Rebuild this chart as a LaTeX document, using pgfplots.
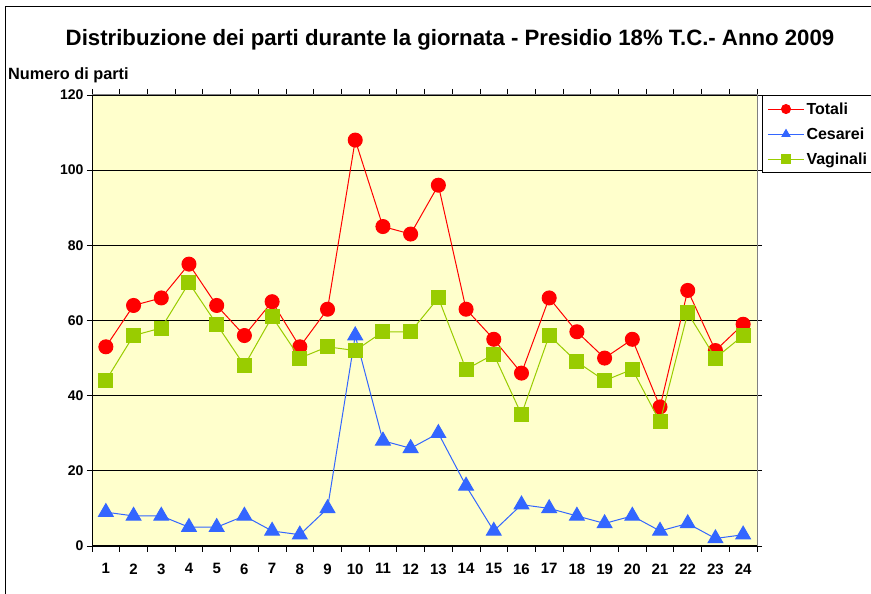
\documentclass[border=0pt]{standalone}
\usepackage{pgfplots}
\pgfplotsset{compat=1.18}
\usepackage{fontspec}
\setmainfont{Liberation Sans}
\definecolor{cred}{HTML}{FF0000}
\definecolor{cblue}{HTML}{3366FF}
\definecolor{cgreen}{HTML}{99CC00}
\definecolor{bgyellow}{HTML}{FFFFCC}
\begin{document}
\begin{tikzpicture}[x=1pt,y=1pt]
\useasboundingbox (0,0) rectangle (871,594);
\clip (0,0) rectangle (871,594);
\fill[white] (0,0) rectangle (871,594);
\draw[black,line width=1pt] (5,0) -- (5,587) -- (872,587);
\node[font=\bfseries\fontsize{22.2}{25}\selectfont] at (450,554) {Distribuzione dei parti durante la giornata - Presidio 18\% T.C.- Anno 2009};
\node[font=\bfseries\fontsize{16.3}{18}\selectfont, anchor=west, inner sep=0pt] at (8,519) {Numero di parti};
\begin{axis}[
  at={(92pt,48pt)}, anchor=south west,
  width=665pt, height=451pt, scale only axis,
  xmin=0.5, xmax=24.5, ymin=0, ymax=120,
  xtick={1,...,24},
  minor xtick={0.5,1.5,...,24.5},
  ytick={0,20,...,120},
  /pgf/number format/assume math mode=true,
  major x tick style={draw=none},
  minor x tick style={black, line width=0.8pt},
  major y tick style={black, line width=0.8pt},
  tick align=outside,
  major tick length=5pt, minor tick length=6pt,
  ymajorgrids,
  major grid style={black, line width=0.8pt},
  axis background/.style={fill=bgyellow},
  axis line style={draw=gray, line width=1pt},
  xticklabel style={font=\bfseries\fontsize{15}{17}\selectfont, yshift=-9pt},
  yticklabel style={font=\bfseries\fontsize{14}{16}\selectfont},
  clip mode=individual,
  legend style={at={(1,1)}, xshift=5pt, anchor=north west, draw=black, line width=1pt,
    font=\bfseries\fontsize{16}{18}\selectfont, row sep=8pt, inner xsep=5pt, inner ysep=5pt,
    cells={anchor=west}},
  legend cell align=left,
  legend image code/.code={\draw[line width=1pt, mark repeat=2, mark phase=2, mark size=4.5pt] plot coordinates {(0pt,0pt) (18pt,0pt) (36pt,0pt)};},
]
\addplot[cred, line width=1pt, mark=*, mark size=7pt, mark options={fill=cred, draw=cred}] coordinates {
(1,53)(2,64)(3,66)(4,75)(5,64)(6,56)(7,65)(8,53)(9,63)(10,108)(11,85)(12,83)(13,96)(14,63)(15,55)(16,46)(17,66)(18,57)(19,50)(20,55)(21,37)(22,68)(23,52)(24,59)};
\addlegendentry{Totali}
\addplot[cblue, line width=1pt, mark=triangle*, mark size=8.5pt, mark options={fill=cblue, draw=cblue}] coordinates {
(1,9)(2,8)(3,8)(4,5)(5,5)(6,8)(7,4)(8,3)(9,10)(10,56)(11,28)(12,26)(13,30)(14,16)(15,4)(16,11)(17,10)(18,8)(19,6)(20,8)(21,4)(22,6)(23,2)(24,3)};
\addlegendentry{Cesarei}
\addplot[cgreen, line width=1pt, mark=square*, mark size=7pt, mark options={fill=cgreen, draw=cgreen}] coordinates {
(1,44)(2,56)(3,58)(4,70)(5,59)(6,48)(7,61)(8,50)(9,53)(10,52)(11,57)(12,57)(13,66)(14,47)(15,51)(16,35)(17,56)(18,49)(19,44)(20,47)(21,33)(22,62)(23,50)(24,56)};
\addlegendentry{Vaginali}
\draw[black, line width=1pt] (rel axis cs:0,1) -- (rel axis cs:0,0) -- (rel axis cs:1,0);
\end{axis}
\end{tikzpicture}
\end{document}
